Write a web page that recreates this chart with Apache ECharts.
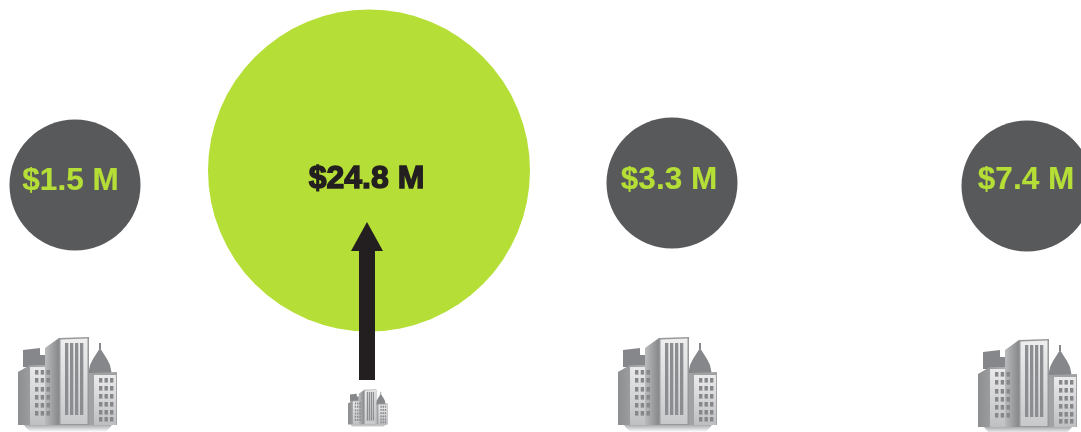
<!DOCTYPE html>
<html><head><meta charset="utf-8">
<style>html,body{margin:0;padding:0;background:#fff}#c{width:1081px;height:432px}</style>
<script src="https://cdn.jsdelivr.net/npm/echarts@6/dist/echarts.min.js"></script></head>
<body><div id="c"></div>
<script>
// Values
var amounts = [1.5, 24.8, 3.3, 7.4];
var labels = ['$1.5 M', '$24.8 M', '$3.3 M', '$7.4 M'];
var centerX = [75, 369, 672, 1027];
var centerY = [185, 170.5, 183, 186];
var diameters = [131, 322, 131, 131];
var labelX = [70.5, 366.5, 669, 1026];
var labelY = [181, 179, 180, 180];
var buildingX = [68, 368, 668, 1028];
var buildingBase = [431, 427, 431, 433];
var buildingScale = [1, 0.4, 1, 1];
var arrowX = [367];
var arrowBottom = [380];
var arrowTop = [222];

var LIME = '#b5de36', DARK = '#58595b', INK = '#231f20';

function poly(pts, fill, o) {
  return {type:'polygon', shape:{points:pts}, style:{fill:fill, opacity:o==null?1:o}};
}
function grad(c0, c1, horiz) {
  return new echarts.graphic.LinearGradient(0,0,horiz?1:0,horiz?0:1,[{offset:0,color:c0},{offset:1,color:c1}]);
}
function rectU(x,y,w,h,fill){return poly([[x,y],[x+w,y],[x+w,y+h],[x,y+h]],fill);}
function buildingShapes(){
  var s=[];
  s.push(poly([[6,88],[94,88],[88,95],[12,95]], grad('#a9abad','#ffffff')));
  s.push(poly([[5,13],[22,11],[22,18],[27,18],[27,30],[5,30]], '#85878a'));
  s.push(poly([[70,38],[72,28],[75,22],[82,11],[89,22],[92,28],[94,38]], '#85878a'));
  s.push(rectU(81,6,2,6,'#85878a'));
  s.push(poly([[0,35],[12,28],[34,28],[34,88],[0,88]], grad('#8c8e90','#b4b6b8',true)));
  s.push(rectU(12,30,22,58, grad('#e9e9ea','#bfc0c2')));
  s.push(poly([[27,11],[41,1],[41,88],[27,88]], grad('#b9bbbd','#86888a',true)));
  s.push(poly([[41,1],[71,0],[71,88],[41,88]], '#96989a'));
  s.push(poly([[42.5,2.5],[69.5,1.5],[69.5,87],[42.5,87]], grad('#eeeeef','#c8c9cb')));
  [47,52,57,62].forEach(function(x){ s.push(rectU(x,6,3.3,72,'#8b8d90')); });
  s.push(poly([[71,36],[99,35],[99,88],[71,88]], '#a0a2a4'));
  s.push(rectU(76,38,22,50, grad('#ebebec','#bebfc1')));
  [17,22.7,28.5].forEach(function(x){
    [33,41,50,58,66,74].forEach(function(y){ s.push(rectU(x,y,3.4,4.6,'#85878a')); });
  });
  [81,86.5,92].forEach(function(x){
    [41,49,57,65,73,80].forEach(function(y){ s.push(rectU(x,y,3.4,4.6,'#85878a')); });
  });
  return s;
}

var option = {
  animation:false,
  backgroundColor:'#ffffff',
  grid:{left:0,right:0,top:0,bottom:0},
  xAxis:{type:'value',min:0,max:1081,show:false},
  yAxis:{type:'value',min:0,max:432,inverse:true,show:false},
  series:[
    {type:'scatter', silent:true, clip:false, z:1,
     data:amounts.map(function(v,i){return {value:[centerX[i],centerY[i],v],
        symbolSize:diameters[i],
        itemStyle:{color:i===1?LIME:DARK,opacity:1}};})},
    {type:'custom', silent:true, clip:false, coordinateSystem:'cartesian2d', z:3,
     data:arrowX.map(function(x,i){return [x,arrowBottom[i],arrowTop[i]];}),
     renderItem:function(p,api){
       var b=api.coord([api.value(0),api.value(1)]), t=api.coord([api.value(0),api.value(2)]);
       var sw=8, hw=16, hh=29;
       return {type:'polygon',shape:{points:[[t[0],t[1]],[t[0]+hw,t[1]+hh],[t[0]+sw,t[1]+hh],[b[0]+sw,b[1]],[b[0]-sw,b[1]],[t[0]-sw,t[1]+hh],[t[0]-hw,t[1]+hh]]},style:{fill:INK}};
     }},
    {type:'custom', silent:true, clip:false, coordinateSystem:'cartesian2d', z:3,
     data:buildingX.map(function(x,i){return [x,buildingBase[i],buildingScale[i]];}),
     renderItem:function(p,api){
       var c=api.coord([api.value(0),api.value(1)]), k=api.value(2);
       return {type:'group',x:c[0]-50*k,y:c[1]-94*k,scaleX:k,scaleY:k,children:buildingShapes()};
     }},
    {type:'scatter', silent:true, clip:false, z:5, symbolSize:1, itemStyle:{color:'rgba(0,0,0,0)',opacity:1},
     data:labels.map(function(t,i){return {value:[labelX[i],labelY[i]],name:t,
       label:{show:true,position:'inside',formatter:t,opacity:1,
         fontFamily:'Liberation Sans',fontWeight:'bold',fontSize:i===1?32:31.5,
         color:i===1?INK:LIME,
         textBorderColor:i===1?INK:LIME,textBorderWidth:i===1?1.4:0.2}};})}
  ]
};
echarts.init(document.getElementById('c'),null,{renderer:'canvas'}).setOption(option);
</script></body></html>
